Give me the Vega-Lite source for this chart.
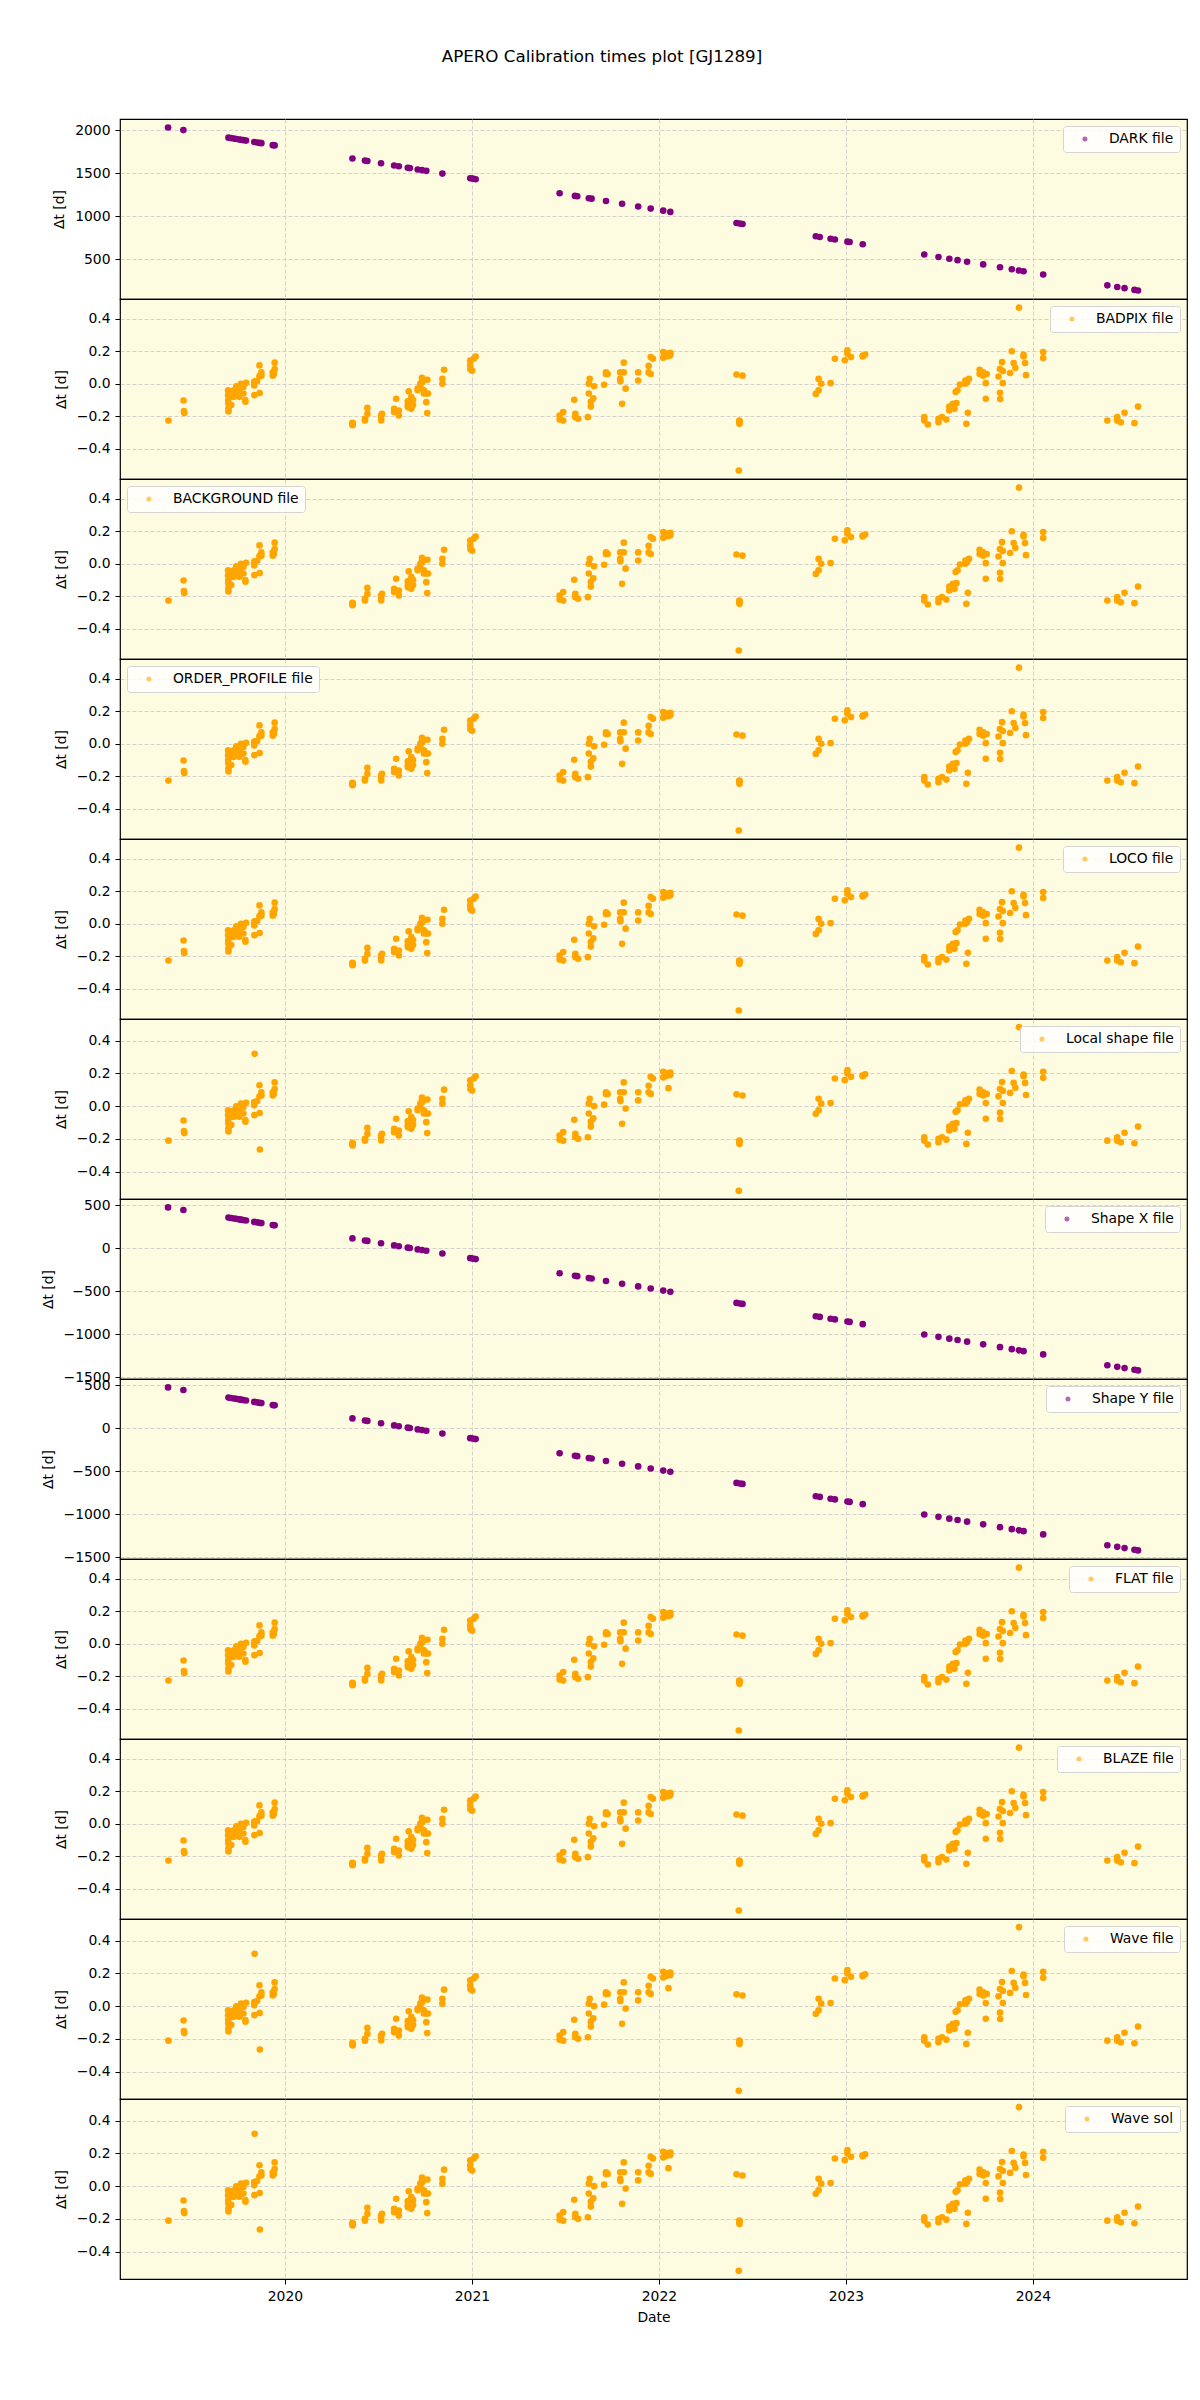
{
  "$schema": "https://vega.github.io/schema/vega-lite/v6.json",
  "title": {"text": "APERO Calibration times plot [GJ1289]", "font": "DejaVu Sans", "fontSize": 16.7, "fontWeight": "normal", "color": "black", "anchor": "middle", "offset": 53, "dx": -12},
  "padding": {"left": 40, "top": 48, "right": 12, "bottom": 10},
  "background": "white",
  "bounds": "flush",
  "spacing": 0,
  "datasets": {
    "cal": [
      {"t":2019.375,"dark":2029,"shape":474},{"t":2019.457,"dark":1999,"shape":444},{"t":2019.698,"dark":1911,"shape":356},{"t":2019.712,"dark":1906,"shape":351},{"t":2019.727,"dark":1900,"shape":345},{"t":2019.740,"dark":1896,"shape":341},{"t":2019.756,"dark":1890,"shape":335},{"t":2019.765,"dark":1887,"shape":332},{"t":2019.778,"dark":1882,"shape":327},{"t":2019.792,"dark":1877,"shape":322},{"t":2019.836,"dark":1861,"shape":306},{"t":2019.851,"dark":1855,"shape":300},{"t":2019.864,"dark":1850,"shape":295},{"t":2019.874,"dark":1847,"shape":292},{"t":2019.935,"dark":1824,"shape":269},{"t":2019.945,"dark":1821,"shape":266},
      {"t":2020.361,"dark":1669,"shape":114},{"t":2020.428,"dark":1644,"shape":89},{"t":2020.441,"dark":1640,"shape":85},{"t":2020.514,"dark":1613,"shape":58},{"t":2020.584,"dark":1587,"shape":32},{"t":2020.609,"dark":1578,"shape":23},{"t":2020.657,"dark":1561,"shape":6},{"t":2020.668,"dark":1557,"shape":2},{"t":2020.710,"dark":1541,"shape":-14},{"t":2020.733,"dark":1533,"shape":-22},{"t":2020.756,"dark":1525,"shape":-30},{"t":2020.842,"dark":1493,"shape":-62},{"t":2020.991,"dark":1439,"shape":-116},{"t":2021.005,"dark":1434,"shape":-121},{"t":2021.020,"dark":1428,"shape":-127},
      {"t":2021.469,"dark":1264,"shape":-291},{"t":2021.551,"dark":1234,"shape":-321},{"t":2021.563,"dark":1230,"shape":-325},{"t":2021.625,"dark":1207,"shape":-348},{"t":2021.640,"dark":1202,"shape":-353},{"t":2021.717,"dark":1174,"shape":-381},{"t":2021.803,"dark":1142,"shape":-413},{"t":2021.889,"dark":1111,"shape":-444},{"t":2021.956,"dark":1086,"shape":-469},{"t":2022.023,"dark":1062,"shape":-493},{"t":2022.061,"dark":1048,"shape":-507},
      {"t":2022.415,"dark":919,"shape":-636},{"t":2022.433,"dark":912,"shape":-643},{"t":2022.447,"dark":907,"shape":-648},{"t":2022.839,"dark":764,"shape":-791},{"t":2022.860,"dark":756,"shape":-799},{"t":2022.918,"dark":735,"shape":-820},{"t":2022.941,"dark":727,"shape":-828},{"t":2023.008,"dark":702,"shape":-853},{"t":2023.020,"dark":698,"shape":-857},{"t":2023.090,"dark":672,"shape":-883},
      {"t":2023.419,"dark":552,"shape":-1003},{"t":2023.495,"dark":524,"shape":-1031},{"t":2023.553,"dark":503,"shape":-1052},{"t":2023.597,"dark":487,"shape":-1068},{"t":2023.648,"dark":468,"shape":-1087},{"t":2023.734,"dark":437,"shape":-1118},{"t":2023.824,"dark":404,"shape":-1151},{"t":2023.887,"dark":381,"shape":-1174},{"t":2023.925,"dark":367,"shape":-1188},{"t":2023.950,"dark":358,"shape":-1197},{"t":2024.055,"dark":320,"shape":-1235},
      {"t":2024.398,"dark":194,"shape":-1361},{"t":2024.451,"dark":175,"shape":-1380},{"t":2024.490,"dark":161,"shape":-1394},{"t":2024.543,"dark":141,"shape":-1414},{"t":2024.562,"dark":134,"shape":-1421}
    ],
    "obs": [
      {"t":2019.377,"a":-0.226,"b":-0.211},{"t":2019.458,"a":-0.103,"b":-0.088},{"t":2019.460,"a":-0.168,"b":-0.153},{"t":2019.462,"a":-0.180,"b":-0.165},
      {"t":2019.696,"a":-0.040,"b":-0.025},{"t":2019.696,"a":-0.070,"b":-0.055},{"t":2019.697,"a":-0.100,"b":-0.085},{"t":2019.697,"a":-0.120,"b":-0.105},{"t":2019.698,"a":-0.150,"b":-0.135},{"t":2019.698,"a":-0.170,"b":-0.155},
      {"t":2019.712,"a":-0.050,"b":-0.035},{"t":2019.712,"a":-0.080,"b":-0.065},{"t":2019.713,"a":-0.130,"b":-0.115},{"t":2019.727,"a":-0.040,"b":-0.025},{"t":2019.727,"a":-0.080,"b":-0.065},
      {"t":2019.740,"a":-0.016,"b":-0.001},{"t":2019.740,"a":-0.060,"b":-0.045},{"t":2019.756,"a":-0.040,"b":-0.025},{"t":2019.756,"a":-0.080,"b":-0.065},{"t":2019.765,"a":0.000,"b":0.015},
      {"t":2019.778,"a":-0.020,"b":-0.005},{"t":2019.778,"a":-0.060,"b":-0.045},{"t":2019.788,"a":-0.100,"b":-0.085},{"t":2019.789,"a":-0.110,"b":-0.095},{"t":2019.792,"a":0.006,"b":0.021},
      {"t":2019.836,"a":0.010,"b":0.025},{"t":2019.836,"a":-0.010,"b":0.005},{"t":2019.837,"a":-0.070,"b":-0.055},{"t":2019.838,"a":0.015,"b":0.320},{"t":2019.851,"a":0.016,"b":0.031},
      {"t":2019.864,"a":0.113,"b":0.128},{"t":2019.864,"a":0.045,"b":0.060},{"t":2019.865,"a":-0.057,"b":-0.042},{"t":2019.866,"a":0.050,"b":-0.265},
      {"t":2019.874,"a":0.070,"b":0.085},{"t":2019.874,"a":0.050,"b":0.065},{"t":2019.935,"a":0.070,"b":0.085},{"t":2019.935,"a":0.050,"b":0.065},{"t":2019.941,"a":0.060,"b":0.075},{"t":2019.945,"a":0.130,"b":0.145},{"t":2019.945,"a":0.090,"b":0.105},
      {"t":2020.361,"a":-0.240,"b":-0.225},{"t":2020.361,"a":-0.250,"b":-0.235},{"t":2020.362,"a":-0.255,"b":-0.240},{"t":2020.363,"a":-0.245,"b":-0.230},
      {"t":2020.428,"a":-0.215,"b":-0.200},{"t":2020.428,"a":-0.226,"b":-0.211},{"t":2020.441,"a":-0.185,"b":-0.170},{"t":2020.441,"a":-0.148,"b":-0.133},
      {"t":2020.514,"a":-0.195,"b":-0.180},{"t":2020.514,"a":-0.210,"b":-0.195},{"t":2020.515,"a":-0.225,"b":-0.210},{"t":2020.519,"a":-0.185,"b":-0.170},
      {"t":2020.584,"a":-0.154,"b":-0.139},{"t":2020.584,"a":-0.174,"b":-0.159},{"t":2020.595,"a":-0.092,"b":-0.077},{"t":2020.609,"a":-0.164,"b":-0.149},{"t":2020.609,"a":-0.195,"b":-0.180},
      {"t":2020.657,"a":-0.107,"b":-0.092},{"t":2020.657,"a":-0.133,"b":-0.118},{"t":2020.658,"a":-0.144,"b":-0.129},{"t":2020.662,"a":-0.047,"b":-0.032},
      {"t":2020.676,"a":-0.082,"b":-0.067},{"t":2020.676,"a":-0.154,"b":-0.139},{"t":2020.685,"a":-0.100,"b":-0.085},{"t":2020.685,"a":-0.130,"b":-0.115},
      {"t":2020.710,"a":-0.030,"b":-0.015},{"t":2020.710,"a":-0.040,"b":-0.025},{"t":2020.724,"a":0.000,"b":0.015},{"t":2020.724,"a":-0.020,"b":-0.005},
      {"t":2020.733,"a":0.020,"b":0.035},{"t":2020.733,"a":0.037,"b":0.052},{"t":2020.735,"a":0.010,"b":0.025},{"t":2020.743,"a":-0.040,"b":-0.025},{"t":2020.743,"a":-0.060,"b":-0.045},
      {"t":2020.756,"a":-0.113,"b":-0.098},{"t":2020.756,"a":-0.060,"b":-0.045},{"t":2020.761,"a":-0.180,"b":-0.165},{"t":2020.762,"a":0.025,"b":0.040},{"t":2020.765,"a":-0.060,"b":-0.045},
      {"t":2020.842,"a":0.030,"b":0.045},{"t":2020.842,"a":0.000,"b":0.015},{"t":2020.851,"a":0.086,"b":0.101},
      {"t":2020.991,"a":0.143,"b":0.158},{"t":2020.991,"a":0.113,"b":0.128},{"t":2020.992,"a":0.090,"b":0.105},{"t":2021.001,"a":0.080,"b":0.095},{"t":2021.010,"a":0.154,"b":0.169},{"t":2021.020,"a":0.168,"b":0.183},
      {"t":2021.469,"a":-0.195,"b":-0.180},{"t":2021.469,"a":-0.220,"b":-0.205},{"t":2021.488,"a":-0.174,"b":-0.159},{"t":2021.488,"a":-0.226,"b":-0.211},
      {"t":2021.547,"a":-0.098,"b":-0.083},{"t":2021.553,"a":-0.185,"b":-0.170},{"t":2021.553,"a":-0.205,"b":-0.190},{"t":2021.568,"a":-0.215,"b":-0.200},
      {"t":2021.620,"a":-0.205,"b":-0.190},{"t":2021.625,"a":-0.060,"b":-0.045},{"t":2021.625,"a":0.000,"b":0.015},{"t":2021.630,"a":0.030,"b":0.045},
      {"t":2021.636,"a":-0.140,"b":-0.125},{"t":2021.636,"a":-0.110,"b":-0.095},{"t":2021.649,"a":-0.090,"b":-0.075},{"t":2021.653,"a":-0.015,"b":0.000},
      {"t":2021.707,"a":-0.006,"b":0.009},{"t":2021.717,"a":0.060,"b":0.075},{"t":2021.717,"a":0.070,"b":0.085},{"t":2021.726,"a":0.060,"b":0.075},
      {"t":2021.793,"a":0.070,"b":0.085},{"t":2021.793,"a":0.030,"b":0.045},{"t":2021.794,"a":0.016,"b":0.031},{"t":2021.803,"a":-0.123,"b":-0.108},
      {"t":2021.812,"a":0.070,"b":0.085},{"t":2021.812,"a":0.130,"b":0.145},{"t":2021.822,"a":-0.030,"b":-0.015},{"t":2021.889,"a":0.070,"b":0.085},{"t":2021.889,"a":0.020,"b":0.035},
      {"t":2021.945,"a":0.110,"b":0.125},{"t":2021.945,"a":0.070,"b":0.085},{"t":2021.956,"a":0.164,"b":0.179},{"t":2021.956,"a":0.060,"b":0.075},{"t":2021.968,"a":0.154,"b":0.169},
      {"t":2022.023,"a":0.195,"b":0.210},{"t":2022.023,"a":0.160,"b":0.175},{"t":2022.040,"a":0.170,"b":0.185},{"t":2022.040,"a":0.185,"b":0.200},{"t":2022.051,"a":0.170,"b":0.110},{"t":2022.061,"a":0.190,"b":0.205},{"t":2022.061,"a":0.175,"b":0.190},
      {"t":2022.415,"a":0.057,"b":0.072},{"t":2022.427,"a":-0.533,"b":-0.518},{"t":2022.430,"a":-0.226,"b":-0.211},{"t":2022.430,"a":-0.236,"b":-0.221},{"t":2022.431,"a":-0.246,"b":-0.231},{"t":2022.432,"a":-0.230,"b":-0.215},{"t":2022.447,"a":0.050,"b":0.065},
      {"t":2022.839,"a":-0.062,"b":-0.047},{"t":2022.854,"a":0.030,"b":0.045},{"t":2022.854,"a":-0.040,"b":-0.025},{"t":2022.868,"a":0.000,"b":0.015},{"t":2022.918,"a":0.004,"b":0.019},{"t":2022.941,"a":0.154,"b":0.169},
      {"t":2022.994,"a":0.144,"b":0.159},{"t":2023.008,"a":0.205,"b":0.220},{"t":2023.008,"a":0.185,"b":0.200},{"t":2023.027,"a":0.164,"b":0.179},{"t":2023.090,"a":0.174,"b":0.189},{"t":2023.090,"a":0.168,"b":0.183},{"t":2023.103,"a":0.180,"b":0.195},
      {"t":2023.419,"a":-0.205,"b":-0.190},{"t":2023.419,"a":-0.226,"b":-0.211},{"t":2023.438,"a":-0.250,"b":-0.235},{"t":2023.495,"a":-0.215,"b":-0.200},{"t":2023.495,"a":-0.236,"b":-0.221},{"t":2023.514,"a":-0.205,"b":-0.190},{"t":2023.537,"a":-0.220,"b":-0.205},
      {"t":2023.553,"a":-0.140,"b":-0.125},{"t":2023.553,"a":-0.164,"b":-0.149},{"t":2023.572,"a":-0.123,"b":-0.108},{"t":2023.581,"a":-0.154,"b":-0.139},{"t":2023.587,"a":-0.050,"b":-0.035},{"t":2023.591,"a":-0.119,"b":-0.104},{"t":2023.597,"a":-0.040,"b":-0.025},{"t":2023.610,"a":-0.004,"b":0.011},
      {"t":2023.639,"a":0.020,"b":0.035},{"t":2023.639,"a":0.000,"b":0.015},{"t":2023.644,"a":-0.246,"b":-0.231},{"t":2023.648,"a":0.010,"b":0.025},{"t":2023.652,"a":-0.178,"b":-0.163},{"t":2023.658,"a":0.030,"b":0.045},
      {"t":2023.715,"a":0.086,"b":0.101},{"t":2023.715,"a":0.060,"b":0.075},{"t":2023.734,"a":0.070,"b":0.085},{"t":2023.734,"a":0.050,"b":0.065},{"t":2023.748,"a":0.004,"b":0.019},{"t":2023.748,"a":-0.092,"b":-0.077},{"t":2023.753,"a":0.060,"b":0.075},
      {"t":2023.816,"a":0.045,"b":0.060},{"t":2023.824,"a":0.090,"b":0.105},{"t":2023.824,"a":-0.055,"b":-0.040},{"t":2023.825,"a":-0.094,"b":-0.079},{"t":2023.835,"a":0.133,"b":0.148},{"t":2023.839,"a":0.078,"b":0.093},{"t":2023.839,"a":0.004,"b":0.019},
      {"t":2023.878,"a":0.066,"b":0.081},{"t":2023.887,"a":0.200,"b":0.215},{"t":2023.897,"a":0.127,"b":0.142},{"t":2023.906,"a":0.098,"b":0.113},{"t":2023.925,"a":0.468,"b":0.483},
      {"t":2023.950,"a":0.178,"b":0.193},{"t":2023.950,"a":0.168,"b":0.183},{"t":2023.958,"a":0.127,"b":0.142},{"t":2023.963,"a":0.053,"b":0.068},{"t":2024.055,"a":0.195,"b":0.210},{"t":2024.055,"a":0.158,"b":0.173},
      {"t":2024.398,"a":-0.226,"b":-0.211},{"t":2024.451,"a":-0.205,"b":-0.190},{"t":2024.451,"a":-0.226,"b":-0.211},{"t":2024.470,"a":-0.236,"b":-0.221},{"t":2024.490,"a":-0.178,"b":-0.163},{"t":2024.543,"a":-0.242,"b":-0.227},{"t":2024.562,"a":-0.140,"b":-0.125}
    ]
  },
  "vconcat": [
    {"data": {"name": "cal"}, "width": 1067, "height": 180, "mark": {"type": "circle", "size": 44, "opacity": 1},
     "encoding": {
       "x": {"field": "t", "type": "quantitative", "scale": {"domain": [2019.118, 2024.824], "nice": false, "zero": false}, "axis": {"values": [2020,2021,2022,2023,2024], "labels": false, "ticks": false, "title": null}},
       "y": {"field": "dark", "type": "quantitative", "scale": {"domain": [35, 2128], "nice": false, "zero": false}, "axis": {"values": [500,1000,1500,2000], "format": "d", "title": "Δt [d]"}},
       "color": {"datum": "DARK file", "scale": {"range": ["#800080"]}, "legend": {"orient": "top-right", "title": null}}}},
    {"data": {"name": "obs"}, "width": 1067, "height": 180, "mark": {"type": "circle", "size": 44, "opacity": 1},
     "encoding": {
       "x": {"field": "t", "type": "quantitative", "scale": {"domain": [2019.118, 2024.824], "nice": false, "zero": false}, "axis": {"values": [2020,2021,2022,2023,2024], "labels": false, "ticks": false, "title": null}},
       "y": {"field": "a", "type": "quantitative", "scale": {"domain": [-0.585, 0.521], "nice": false, "zero": false}, "axis": {"values": [-0.4,-0.2,0,0.2,0.4], "format": ".1f", "title": "Δt [d]"}},
       "color": {"datum": "BADPIX file", "scale": {"range": ["#ffa500"]}, "legend": {"orient": "top-right", "title": null}}}},
    {"data": {"name": "obs"}, "width": 1067, "height": 180, "mark": {"type": "circle", "size": 44, "opacity": 1},
     "encoding": {
       "x": {"field": "t", "type": "quantitative", "scale": {"domain": [2019.118, 2024.824], "nice": false, "zero": false}, "axis": {"values": [2020,2021,2022,2023,2024], "labels": false, "ticks": false, "title": null}},
       "y": {"field": "a", "type": "quantitative", "scale": {"domain": [-0.585, 0.521], "nice": false, "zero": false}, "axis": {"values": [-0.4,-0.2,0,0.2,0.4], "format": ".1f", "title": "Δt [d]"}},
       "color": {"datum": "BACKGROUND file", "scale": {"range": ["#ffa500"]}, "legend": {"orient": "top-left", "title": null}}}},
    {"data": {"name": "obs"}, "width": 1067, "height": 180, "mark": {"type": "circle", "size": 44, "opacity": 1},
     "encoding": {
       "x": {"field": "t", "type": "quantitative", "scale": {"domain": [2019.118, 2024.824], "nice": false, "zero": false}, "axis": {"values": [2020,2021,2022,2023,2024], "labels": false, "ticks": false, "title": null}},
       "y": {"field": "a", "type": "quantitative", "scale": {"domain": [-0.585, 0.521], "nice": false, "zero": false}, "axis": {"values": [-0.4,-0.2,0,0.2,0.4], "format": ".1f", "title": "Δt [d]"}},
       "color": {"datum": "ORDER_PROFILE file", "scale": {"range": ["#ffa500"]}, "legend": {"orient": "top-left", "title": null}}}},
    {"data": {"name": "obs"}, "width": 1067, "height": 180, "mark": {"type": "circle", "size": 44, "opacity": 1},
     "encoding": {
       "x": {"field": "t", "type": "quantitative", "scale": {"domain": [2019.118, 2024.824], "nice": false, "zero": false}, "axis": {"values": [2020,2021,2022,2023,2024], "labels": false, "ticks": false, "title": null}},
       "y": {"field": "a", "type": "quantitative", "scale": {"domain": [-0.585, 0.521], "nice": false, "zero": false}, "axis": {"values": [-0.4,-0.2,0,0.2,0.4], "format": ".1f", "title": "Δt [d]"}},
       "color": {"datum": "LOCO file", "scale": {"range": ["#ffa500"]}, "legend": {"orient": "top-right", "title": null}}}},
    {"data": {"name": "obs"}, "width": 1067, "height": 180, "mark": {"type": "circle", "size": 44, "opacity": 1},
     "encoding": {
       "x": {"field": "t", "type": "quantitative", "scale": {"domain": [2019.118, 2024.824], "nice": false, "zero": false}, "axis": {"values": [2020,2021,2022,2023,2024], "labels": false, "ticks": false, "title": null}},
       "y": {"field": "b", "type": "quantitative", "scale": {"domain": [-0.568, 0.533], "nice": false, "zero": false}, "axis": {"values": [-0.4,-0.2,0,0.2,0.4], "format": ".1f", "title": "Δt [d]"}},
       "color": {"datum": "Local shape file", "scale": {"range": ["#ffa500"]}, "legend": {"orient": "top-right", "title": null}}}},
    {"data": {"name": "cal"}, "width": 1067, "height": 180, "mark": {"type": "circle", "size": 44, "opacity": 1},
     "encoding": {
       "x": {"field": "t", "type": "quantitative", "scale": {"domain": [2019.118, 2024.824], "nice": false, "zero": false}, "axis": {"values": [2020,2021,2022,2023,2024], "labels": false, "ticks": false, "title": null}},
       "y": {"field": "shape", "type": "quantitative", "scale": {"domain": [-1521, 572], "nice": false, "zero": false}, "axis": {"values": [-1500,-1000,-500,0,500], "format": "d", "title": "Δt [d]"}},
       "color": {"datum": "Shape X file", "scale": {"range": ["#800080"]}, "legend": {"orient": "top-right", "title": null}}}},
    {"data": {"name": "cal"}, "width": 1067, "height": 180, "mark": {"type": "circle", "size": 44, "opacity": 1},
     "encoding": {
       "x": {"field": "t", "type": "quantitative", "scale": {"domain": [2019.118, 2024.824], "nice": false, "zero": false}, "axis": {"values": [2020,2021,2022,2023,2024], "labels": false, "ticks": false, "title": null}},
       "y": {"field": "shape", "type": "quantitative", "scale": {"domain": [-1521, 572], "nice": false, "zero": false}, "axis": {"values": [-1500,-1000,-500,0,500], "format": "d", "title": "Δt [d]"}},
       "color": {"datum": "Shape Y file", "scale": {"range": ["#800080"]}, "legend": {"orient": "top-right", "title": null}}}},
    {"data": {"name": "obs"}, "width": 1067, "height": 180, "mark": {"type": "circle", "size": 44, "opacity": 1},
     "encoding": {
       "x": {"field": "t", "type": "quantitative", "scale": {"domain": [2019.118, 2024.824], "nice": false, "zero": false}, "axis": {"values": [2020,2021,2022,2023,2024], "labels": false, "ticks": false, "title": null}},
       "y": {"field": "a", "type": "quantitative", "scale": {"domain": [-0.585, 0.521], "nice": false, "zero": false}, "axis": {"values": [-0.4,-0.2,0,0.2,0.4], "format": ".1f", "title": "Δt [d]"}},
       "color": {"datum": "FLAT file", "scale": {"range": ["#ffa500"]}, "legend": {"orient": "top-right", "title": null}}}},
    {"data": {"name": "obs"}, "width": 1067, "height": 180, "mark": {"type": "circle", "size": 44, "opacity": 1},
     "encoding": {
       "x": {"field": "t", "type": "quantitative", "scale": {"domain": [2019.118, 2024.824], "nice": false, "zero": false}, "axis": {"values": [2020,2021,2022,2023,2024], "labels": false, "ticks": false, "title": null}},
       "y": {"field": "a", "type": "quantitative", "scale": {"domain": [-0.585, 0.521], "nice": false, "zero": false}, "axis": {"values": [-0.4,-0.2,0,0.2,0.4], "format": ".1f", "title": "Δt [d]"}},
       "color": {"datum": "BLAZE file", "scale": {"range": ["#ffa500"]}, "legend": {"orient": "top-right", "title": null}}}},
    {"data": {"name": "obs"}, "width": 1067, "height": 180, "mark": {"type": "circle", "size": 44, "opacity": 1},
     "encoding": {
       "x": {"field": "t", "type": "quantitative", "scale": {"domain": [2019.118, 2024.824], "nice": false, "zero": false}, "axis": {"values": [2020,2021,2022,2023,2024], "labels": false, "ticks": false, "title": null}},
       "y": {"field": "b", "type": "quantitative", "scale": {"domain": [-0.568, 0.533], "nice": false, "zero": false}, "axis": {"values": [-0.4,-0.2,0,0.2,0.4], "format": ".1f", "title": "Δt [d]"}},
       "color": {"datum": "Wave file", "scale": {"range": ["#ffa500"]}, "legend": {"orient": "top-right", "title": null}}}},
    {"data": {"name": "obs"}, "width": 1067, "height": 180, "mark": {"type": "circle", "size": 44, "opacity": 1},
     "encoding": {
       "x": {"field": "t", "type": "quantitative", "scale": {"domain": [2019.118, 2024.824], "nice": false, "zero": false}, "axis": {"values": [2020,2021,2022,2023,2024], "format": "d", "title": "Date", "ticks": true}},
       "y": {"field": "b", "type": "quantitative", "scale": {"domain": [-0.568, 0.533], "nice": false, "zero": false}, "axis": {"values": [-0.4,-0.2,0,0.2,0.4], "format": ".1f", "title": "Δt [d]"}},
       "color": {"datum": "Wave sol", "scale": {"range": ["#ffa500"]}, "legend": {"orient": "top-right", "title": null}}}}
  ],
  "resolve": {"scale": {"color": "independent", "y": "independent"}, "legend": {"color": "independent"}},
  "config": {
    "font": "DejaVu Sans",
    "view": {"stroke": "black", "strokeWidth": 1.2, "fill": "#fdfbe0"},
    "axis": {"labelFont": "DejaVu Sans", "labelFontSize": 13.9, "labelColor": "black", "titleFont": "DejaVu Sans", "titleFontSize": 13.9, "titleFontWeight": "normal", "titleColor": "black", "tickColor": "black", "tickSize": 5, "labelPadding": 5, "titlePadding": 8, "domain": false, "grid": true, "gridColor": "#c8c8c8", "gridDash": [4, 2], "gridWidth": 0.8},
    "legend": {"labelFont": "DejaVu Sans", "labelFontSize": 13.9, "labelColor": "black", "fillColor": "rgba(255,255,255,0.8)", "strokeColor": "#d5d5d5", "cornerRadius": 3, "padding": 6, "offset": 7, "symbolSize": 25, "symbolOpacity": 0.6, "symbolOffset": 9, "labelOffset": 17, "symbolType": "circle"}
  }
}
